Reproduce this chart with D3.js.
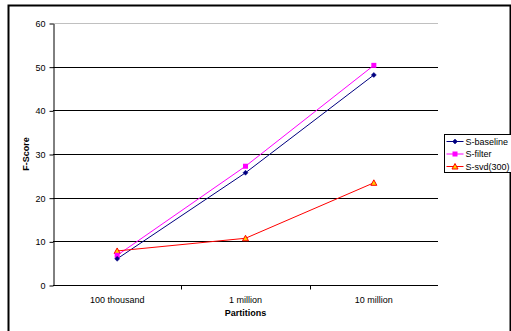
<!DOCTYPE html>
<html>
<head>
<meta charset="utf-8">
<script src="https://cdn.jsdelivr.net/npm/d3@7"></script>
<style>
  html, body { margin: 0; padding: 0; background: #fff; }
  svg { display: block; font-family: "Liberation Sans", Arial, sans-serif; }
</style>
</head>
<body>
<svg id="chart" width="511" height="331"></svg>
<script>
// Category labels along the x axis
const categories = ["100 thousand", "1 million", "10 million"];
// F-Score per series
const baseline = [6.0, 25.7, 48.1];
const filter = [6.8, 27.2, 50.3];
const svd300 = [7.8, 10.7, 23.4];
const seriesNames = ["S-baseline", "S-filter", "S-svd(300)"];
const yTicks = [0, 10, 20, 30, 40, 50, 60];

const series = [
  { name: seriesNames[0], values: baseline, color: "#000080", marker: "diamond" },
  { name: seriesNames[1], values: filter, color: "#ff00ff", marker: "square" },
  { name: seriesNames[2], values: svd300, color: "#ff0000", marker: "triangle" }
];

const svg = d3.select("#chart");
const plot = { left: 53, right: 438, top: 23, bottom: 285 };

// outer chart frame
svg.append("rect")
  .attr("x", 8.5).attr("y", 5.5)
  .attr("width", 502).attr("height", 340)
  .attr("fill", "none").attr("stroke", "#000").attr("stroke-width", 2);

const x = d3.scaleBand().domain(categories).range([plot.left, plot.right]);
const y = d3.scaleLinear().domain([0, 60]).range([plot.bottom, plot.top]);

// horizontal gridlines
svg.append("g").selectAll("line")
  .data(yTicks.filter(t => t > 0))
  .join("line")
  .attr("x1", plot.left).attr("x2", plot.right)
  .attr("y1", d => Math.round(y(d)) + 0.5).attr("y2", d => Math.round(y(d)) + 0.5)
  .attr("stroke", d => d === 60 ? "#c0c0c0" : "#000")
  .attr("stroke-width", 1);

// y axis
const yAxis = svg.append("g")
  .attr("transform", `translate(${plot.left + 0.5},0.5)`)
  .call(d3.axisLeft(y).tickValues(yTicks).tickSize(4).tickSizeOuter(0).tickPadding(4));
yAxis.selectAll("path, line").attr("stroke", "#000");
yAxis.selectAll("text").attr("font-size", 9).attr("fill", "#000").attr("font-family", "Liberation Sans, Arial, sans-serif");

// x axis, ticks between categories
const xAxis = svg.append("g")
  .attr("transform", `translate(0,${plot.bottom + 0.5})`);
xAxis.append("line")
  .attr("x1", plot.left).attr("x2", plot.right)
  .attr("stroke", "#000");
const boundaries = categories.slice(1).map(c => x(c));
xAxis.selectAll(".tk").data(boundaries).join("line")
  .attr("class", "tk")
  .attr("x1", d => Math.round(d) + 0.5).attr("x2", d => Math.round(d) + 0.5)
  .attr("y1", 0).attr("y2", 4).attr("stroke", "#000");
xAxis.selectAll("text").data(categories).join("text")
  .attr("x", d => x(d) + x.bandwidth() / 2)
  .attr("y", 17)
  .attr("text-anchor", "middle")
  .attr("font-size", 9)
  .text(d => d);

// axis titles
svg.append("text")
  .attr("x", (plot.left + plot.right) / 2).attr("y", 316)
  .attr("text-anchor", "middle").attr("font-size", 9).attr("font-weight", "bold")
  .text("Partitions");
svg.append("text")
  .attr("transform", "translate(29,154) rotate(-90)")
  .attr("text-anchor", "middle").attr("font-size", 9).attr("font-weight", "bold")
  .text("F-Score");

function drawMarker(g, type, color) {
  if (type === "diamond") {
    g.append("path").attr("d", "M0,-2.5L2.5,0L0,2.5L-2.5,0Z").attr("fill", color).attr("stroke", color).attr("stroke-width", 0.5);
  } else if (type === "square") {
    g.append("rect").attr("x", -2.5).attr("y", -2.5).attr("width", 5).attr("height", 5).attr("fill", color);
  } else {
    g.append("path").attr("d", "M0,-3L3,2.5L-3,2.5Z").attr("fill", "#ffcc00").attr("stroke", color).attr("stroke-width", 1);
  }
}

const line = d3.line()
  .x((d, i) => x(categories[i]) + x.bandwidth() / 2)
  .y(d => y(d));

series.forEach(s => {
  svg.append("path")
    .attr("d", line(s.values))
    .attr("fill", "none").attr("stroke", s.color).attr("stroke-width", 1);
});
series.slice().reverse().forEach(s => {
  s.values.forEach((v, i) => {
    const g = svg.append("g")
      .attr("transform", `translate(${x(categories[i]) + x.bandwidth() / 2},${y(v)})`);
    drawMarker(g, s.marker, s.color);
  });
});

// legend
const legend = svg.append("g").attr("transform", "translate(444.5,134.5)");
legend.append("rect").attr("width", 67).attr("height", 38)
  .attr("fill", "#fff").attr("stroke", "#000").attr("stroke-width", 1);
series.forEach((s, i) => {
  const row = legend.append("g").attr("transform", `translate(0,${7 + i * 12.5})`);
  row.append("line").attr("x1", 2).attr("x2", 19).attr("stroke", s.color);
  const m = row.append("g").attr("transform", "translate(10.5,0)");
  drawMarker(m, s.marker, s.color);
  row.append("text").attr("x", 21).attr("y", 3.3).attr("font-size", 9).text(s.name);
});
</script>
</body>
</html>
